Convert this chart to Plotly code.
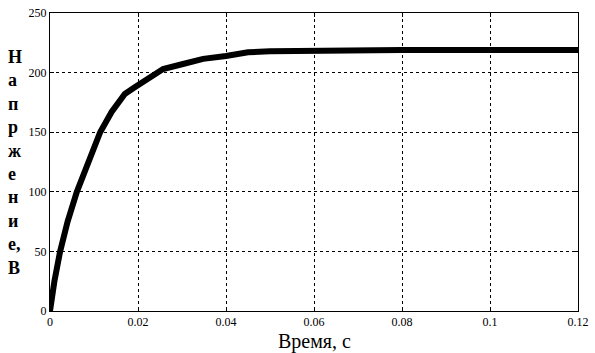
import plotly.graph_objects as go

time_s = [0, 0.0005, 0.001, 0.0023, 0.004, 0.0061, 0.009, 0.0114, 0.014, 0.017,
          0.019, 0.022, 0.0257, 0.03, 0.0348, 0.04, 0.045, 0.05, 0.06, 0.08, 0.1, 0.12]
voltage = [0, 15, 25, 50, 75, 100, 128, 150, 167, 182,
           187, 194, 203, 207, 211.5, 214, 217, 218, 218.5, 219, 219, 219]

x_ticks = [0, 0.02, 0.04, 0.06, 0.08, 0.1, 0.12]
x_tick_labels = ["0", "0.02", "0.04", "0.06", "0.08", "0.1", "0.12"]
y_ticks = [0, 50, 100, 150, 200, 250]
y_tick_labels = ["0", "50", "100", "150", "200", "250"]
y_label_letters = ["Н", "а", "п", "р", "ж", "е", "н", "и", "е,", "В"]
x_label = "Время, с"

fig = go.Figure()
fig.add_trace(go.Scatter(x=time_s, y=voltage, mode="lines",
                         line=dict(color="black", width=6), showlegend=False))

axis_common = dict(showline=True, linecolor="black", linewidth=1, mirror="ticks",
                   ticks="inside", ticklen=4, tickcolor="black",
                   showgrid=True, gridcolor="black", gridwidth=1, griddash="dot",
                   zeroline=False, ticklabeloverflow="allow",
                   tickfont=dict(family="Liberation Sans Narrow", size=12, color="black"))

fig.update_xaxes(range=[0, 0.12], tickvals=x_ticks, ticktext=x_tick_labels, **axis_common)
fig.update_yaxes(range=[0, 250], tickvals=y_ticks, ticktext=y_tick_labels, **axis_common)

fig.add_annotation(text=x_label, xref="paper", yref="paper", x=0.5, y=-0.058,
                   xanchor="center", yanchor="top", showarrow=False,
                   font=dict(family="Liberation Serif", size=20, color="black"))
fig.add_annotation(text="<br>".join(f"<b>{c}</b>" for c in y_label_letters),
                   xref="paper", yref="paper",
                   x=-0.066, y=0.5, xanchor="center", yanchor="middle", showarrow=False,
                   align="left",
                   font=dict(family="Liberation Serif", size=18, color="black"))

fig.update_layout(width=595, height=353, margin=dict(l=50, r=17, t=6, b=42),
                  plot_bgcolor="white", paper_bgcolor="white")

fig.write_html("out.html", config={"displayModeBar": False},
               post_script="document.body.style.margin='0';")
